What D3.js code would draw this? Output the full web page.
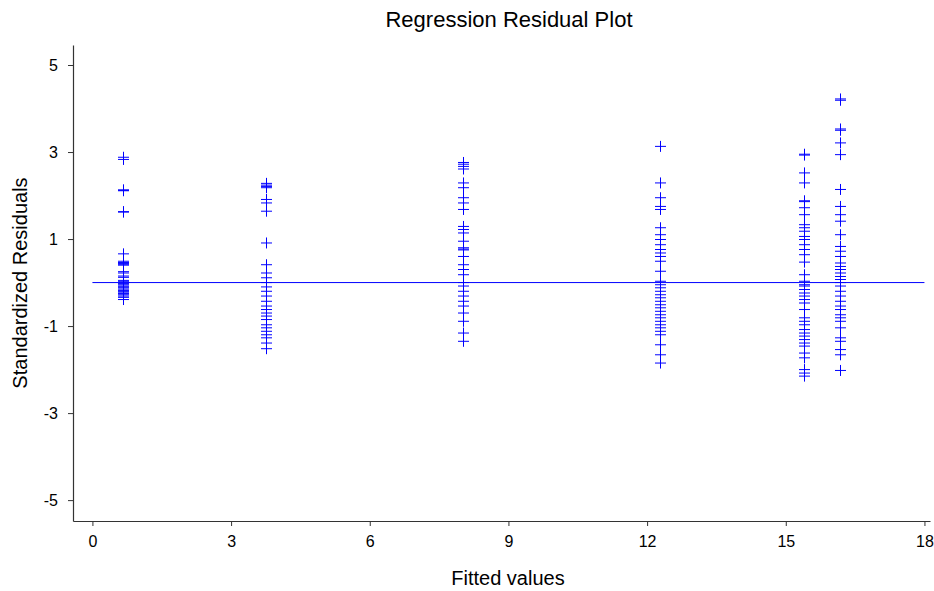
<!DOCTYPE html>
<html><head><meta charset="utf-8">
<script src="https://cdn.jsdelivr.net/npm/d3@7"></script>
<style>body{margin:0;background:#fff;} svg{display:block;font-family:"Liberation Sans",Arial,sans-serif;}</style>
</head><body><div id="chart"></div>
<script>
const fittedValues = [0.66, 3.75, 8.01, 12.28, 15.39, 16.17];
const residuals0 = [2.88, 2.83, 2.13, 2.12, 2.11, 1.63, 1.62, 0.66, 0.49, 0.46, 0.44, 0.42, 0.40, 0.25, 0.22, 0.15, 0.12, 0.05, 0.02, -0.02, -0.05, -0.08, -0.10, -0.12, -0.15, -0.18, -0.20, -0.22, -0.25, -0.28, -0.31, -0.34, -0.39];
const residuals1 = [2.28, 2.24, 2.21, 2.18, 1.91, 1.83, 1.64, 0.91, 0.41, 0.22, 0.11, 0.0, -0.10, -0.20, -0.31, -0.43, -0.54, -0.62, -0.70, -0.77, -0.85, -0.97, -1.04, -1.12, -1.20, -1.27, -1.39, -1.52];
const residuals2 = [2.76, 2.72, 2.67, 2.61, 2.29, 2.18, 1.95, 1.83, 1.68, 1.29, 1.22, 1.14, 0.95, 0.80, 0.77, 0.75, 0.60, 0.41, 0.30, 0.18, 0.0, -0.08, -0.20, -0.31, -0.43, -0.54, -0.70, -0.89, -1.16, -1.35];
const residuals3 = [3.13, 2.29, 1.95, 1.75, 1.68, 1.26, 1.10, 0.99, 0.87, 0.76, 0.68, 0.60, 0.49, 0.26, 0.03, -0.05, -0.12, -0.20, -0.28, -0.35, -0.43, -0.51, -0.58, -0.66, -0.74, -0.81, -0.89, -0.97, -1.04, -1.12, -1.20, -1.43, -1.66, -1.85];
const residuals4 = [2.95, 2.93, 2.52, 2.29, 1.88, 1.86, 1.72, 1.56, 1.33, 1.26, 1.18, 1.06, 0.99, 0.87, 0.76, 0.64, 0.47, 0.18, 0.03, -0.05, -0.08, -0.16, -0.24, -0.31, -0.39, -0.47, -0.62, -0.81, -0.89, -0.97, -1.08, -1.16, -1.23, -1.31, -1.39, -1.46, -1.62, -1.73, -2.00, -2.08, -2.15];
const residuals5 = [4.22, 4.19, 3.53, 3.50, 3.21, 2.94, 2.14, 1.75, 1.56, 1.41, 1.10, 0.83, 0.72, 0.60, 0.45, 0.37, 0.30, 0.22, 0.14, 0.07, 0.0, -0.08, -0.20, -0.31, -0.43, -0.54, -0.62, -0.74, -0.81, -0.89, -1.04, -1.27, -1.35, -1.54, -1.66, -2.02];
const residualGroups = [residuals0, residuals1, residuals2, residuals3, residuals4, residuals5];
const xTicks = [0, 3, 6, 9, 12, 15, 18];
const yTicks = [-5, -3, -1, 1, 3, 5];

const W = 934, H = 591;
const svg = d3.select("#chart").append("svg").attr("width", W).attr("height", H);
const x = d3.scaleLinear().domain([-0.42, 18.12]).range([73, 930]);
const y = d3.scaleLinear().domain([-5.48, 5.46]).range([521, 45]);

const points = [];
residualGroups.forEach((g, i) => g.forEach(v => points.push({fx: fittedValues[i], r: v})));

const axisColor = "#333";
const fmt = d => String(d);
const gx = svg.append("g").attr("transform", "translate(0,521)")
  .call(d3.axisBottom(x).tickValues(xTicks).tickFormat(fmt).tickSize(5).tickPadding(10).tickSizeOuter(0));
const gy = svg.append("g").attr("transform", "translate(73,0)")
  .call(d3.axisLeft(y).tickValues(yTicks).tickFormat(fmt).tickSize(5).tickPadding(10).tickSizeOuter(0));
[gx, gy].forEach(g => {
  g.select(".domain").attr("stroke", axisColor).attr("stroke-width", 1.2);
  g.selectAll(".tick line").attr("stroke", axisColor);
  g.selectAll(".tick text").attr("fill", "#000").style("font-size", "16px").style("font-family", "'Liberation Sans',Arial,sans-serif");
});

svg.append("line")
  .attr("x1", x(0)).attr("x2", x(18)).attr("y1", y(0)).attr("y2", y(0))
  .attr("stroke", "#0000ff").attr("stroke-width", 1);

const s = 5.5;
svg.append("g").selectAll("path").data(points).join("path")
  .attr("d", d => {
    const cx = Math.round(x(d.fx)) + 0.5, cy = y(d.r);
    return `M${cx - s},${cy}H${cx + s}M${cx},${cy - s}V${cy + s}`;
  })
  .attr("stroke", "#0000ff").attr("stroke-width", 1).attr("fill", "none");

svg.append("text").attr("x", 509).attr("y", 27).attr("text-anchor", "middle")
  .style("font-size", "22px").text("Regression Residual Plot");
svg.append("text").attr("x", 508).attr("y", 585).attr("text-anchor", "middle")
  .style("font-size", "20px").text("Fitted values");
svg.append("text").attr("transform", "translate(27,283) rotate(-90)").attr("text-anchor", "middle")
  .style("font-size", "20px").text("Standardized Residuals");
</script></body></html>
